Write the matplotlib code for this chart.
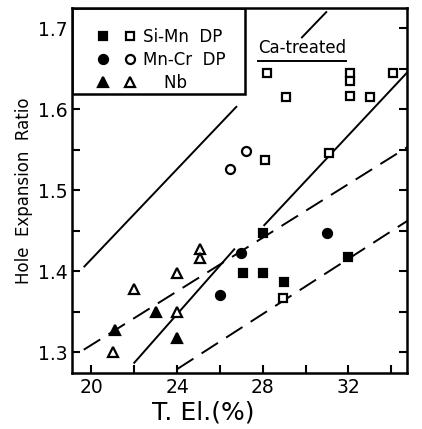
import matplotlib
matplotlib.use("Agg")
import matplotlib.pyplot as plt
from matplotlib.legend_handler import HandlerTuple
from matplotlib.lines import Line2D
from matplotlib.patches import Rectangle

# readings: total elongation (%) vs hole expansion ratio
si_mn_filled_x = [28.0, 27.1, 28.0, 29.0, 32.0]
si_mn_filled_y = [1.447, 1.398, 1.398, 1.387, 1.417]
si_mn_open_x = [28.2, 29.1, 32.1, 32.1, 32.1, 33.0, 34.1, 31.1, 28.1, 28.95]
si_mn_open_y = [1.645, 1.615, 1.645, 1.635, 1.617, 1.615, 1.645, 1.546, 1.537, 1.367]
mn_cr_filled_x = [27.0, 31.0, 26.0]
mn_cr_filled_y = [1.423, 1.447, 1.371]
mn_cr_open_x = [26.45, 27.2]
mn_cr_open_y = [1.526, 1.549]
nb_filled_x = [21.1, 23.0, 24.0]
nb_filled_y = [1.328, 1.350, 1.318]
nb_open_x = [25.05, 25.05, 24.0, 22.0, 24.0, 21.0]
nb_open_y = [1.428, 1.416, 1.398, 1.378, 1.350, 1.300]

# trend lines (segment end points)
solid_upper = [([19.64, 26.8], [1.405, 1.604]), ([29.8, 31.0], [1.688, 1.721])]
solid_mid = [([21.97, 26.7], [1.286, 1.428]), ([28.04, 34.8], [1.456, 1.647])]
dashed_upper = ([19.64, 34.8], [1.303, 1.554])
dashed_lower = ([24.0, 34.8], [1.279, 1.463])

fig = plt.figure(figsize=(4.22, 4.29), dpi=100)
ax = fig.add_axes([0.171, 0.130, 0.794, 0.851])

for xs, ys in solid_upper + solid_mid:
    ax.plot(xs, ys, color="black", lw=1.4, solid_capstyle="butt")
for xs, ys in (dashed_upper, dashed_lower):
    ax.plot(xs, ys, color="black", lw=1.4, dashes=(10, 5))

mk = dict(linestyle="none", color="black", mew=1.6)
h1 = ax.plot(si_mn_filled_x, si_mn_filled_y, marker="s", ms=6, **mk)[0]
h2 = ax.plot(si_mn_open_x, si_mn_open_y, marker="s", ms=6, mfc="white", **mk)[0]
h3 = ax.plot(mn_cr_filled_x, mn_cr_filled_y, marker="o", ms=6.5, **mk)[0]
h4 = ax.plot(mn_cr_open_x, mn_cr_open_y, marker="o", ms=6.5, mfc="white", **mk)[0]
h5 = ax.plot(nb_filled_x, nb_filled_y, marker="^", ms=7.5, **mk)[0]
h6 = ax.plot(nb_open_x, nb_open_y, marker="^", ms=7.5, mfc="white", **mk)[0]

# legend box drawn as a plain rectangle in the top-left corner
box = Rectangle((0, 0.764), 0.516, 0.236, transform=ax.transAxes,
                facecolor="white", edgecolor="black", lw=1.8, zorder=4)
ax.add_patch(box)

leg = ax.legend(
    [(h1, h2), (h3, h4), (h5, h6)],
    ["Si-Mn  DP", "Mn-Cr  DP", "    Nb"],
    handler_map={tuple: HandlerTuple(ndivide=None, pad=1.0)},
    loc="upper left", bbox_to_anchor=(0.078, 0.945), borderaxespad=0,
    fontsize=12, handlelength=2.2, handletextpad=0.5,
    borderpad=0, labelspacing=0.3, frameon=False,
)
leg.set_zorder(5)

t = ax.text(29.85, 1.669, "Ca-treated", ha="center", va="baseline", fontsize=12)

ax.set_xlim(19.1, 34.75)
ax.set_ylim(1.274, 1.725)
ax.set_xticks([20, 24, 28, 32])
ax.set_xticks([22, 26, 30, 34], minor=True)
ax.set_yticks([1.3, 1.4, 1.5, 1.6, 1.7])
ax.set_yticks([1.35, 1.45, 1.55, 1.65], minor=True)
ax.set_yticklabels(["1.3", "1.4", "1.5", "1.6", "1.7"])
ax.tick_params(which="both", direction="in", length=6, width=1.5,
               labelsize=13.5, right=True, top=False)
for s in ax.spines.values():
    s.set_linewidth(1.8)
    s.set_zorder(6)

ax.set_ylabel("Hole  Expansion  Ratio", fontsize=12, labelpad=3)
ax.set_xlabel("T. El.(%)", fontsize=18, labelpad=2)
ax.xaxis.set_label_coords(0.39, -0.075)

# underline for the Ca-treated note
fig.canvas.draw()
bb = t.get_window_extent()
y0 = bb.y0 - 4
fig.add_artist(Line2D([bb.x0, bb.x1], [y0, y0], transform=None, color="black", lw=1.4))

fig.savefig("out.png", dpi=100)
